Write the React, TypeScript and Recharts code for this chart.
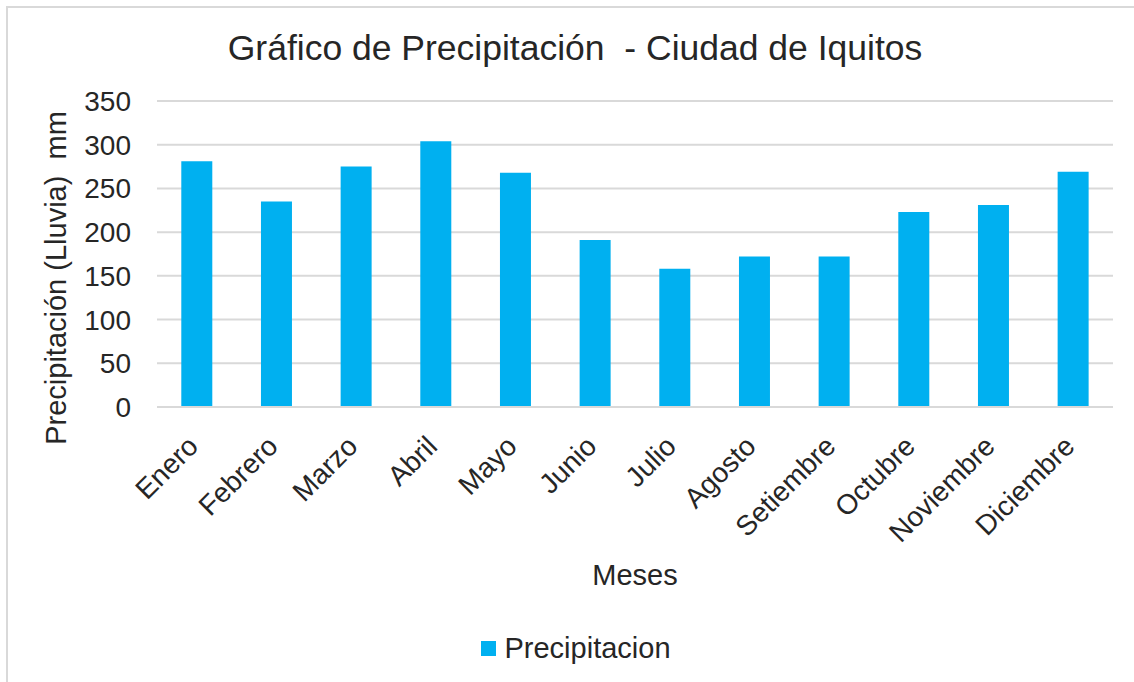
import React from "react";
import { BarChart, Bar, XAxis, YAxis, CartesianGrid, Legend, Label } from "recharts";

const months = ["Enero", "Febrero", "Marzo", "Abril", "Mayo", "Junio", "Julio", "Agosto", "Setiembre", "Octubre", "Noviembre", "Diciembre"];
const precipitation = [281, 235, 275, 304, 268, 191, 158, 172, 172, 223, 231, 269];
const yTicks = [0, 50, 100, 150, 200, 250, 300, 350];

const TITLE = "Gráfico de Precipitación  - Ciudad de Iquitos";
const Y_LABEL = "Precipitación (Lluvia)  mm";
const X_LABEL = "Meses";
const SERIES_NAME = "Precipitacion";

const data = months.map((m, i) => ({ mes: m, Precipitacion: precipitation[i] }));

const FONT = "'Liberation Sans', Arial, sans-serif";
const TEXT = "#262626";
const GRID = "#d9d9d9";
const BAR = "#00B0F0";

const XTick = (props: any) => {
  const { x, y, payload } = props;
  return (
    <g transform={`translate(${x + 3},${y + 33})`}>
      <text x={0} y={0} textAnchor="end" transform="rotate(-45)" fontSize={28} fontFamily={FONT} fill={TEXT}>
        {payload.value}
      </text>
    </g>
  );
};

const LegendContent = (props: any) => {
  const { payload } = props;
  return (
    <div style={{ display: "flex", justifyContent: "center", alignItems: "center", width: 1134 }}>
      {(payload || []).map((p: any) => (
        <div key={p.value} style={{ display: "flex", alignItems: "center", marginLeft: 18 }}>
          <span style={{ display: "inline-block", width: 15, height: 15, background: BAR, marginRight: 8 }} />
          <span style={{ fontSize: 29, fontFamily: FONT, color: TEXT, lineHeight: "32px" }}>{p.value}</span>
        </div>
      ))}
    </div>
  );
};

export default function App() {
  return (
    <div style={{ position: "absolute", left: 0, top: 0, width: 1134, height: 682, background: "#fff", overflow: "hidden" }}>
      <div
        style={{
          position: "absolute",
          left: 6,
          top: 6,
          width: 1140,
          height: 690,
          borderTop: `2px solid ${GRID}`,
          borderLeft: `2px solid ${GRID}`,
        }}
      />
      <div
        style={{
          position: "absolute",
          left: 0,
          top: 31,
          width: 1150,
          textAlign: "center",
          fontSize: 35.5,
          lineHeight: "35px",
          fontFamily: FONT,
          color: TEXT,
          whiteSpace: "pre",
        }}
      >
        {TITLE}
      </div>
      <div style={{ position: "absolute", left: 0, top: 0 }}>
        <BarChart
          width={1134}
          height={682}
          data={data}
          margin={{ top: 101, right: 21, left: 0, bottom: 95 }}
          barCategoryGap="30.5%"
        >
          <CartesianGrid vertical={false} stroke={GRID} strokeWidth={2} />
          <XAxis
            dataKey="mes"
            height={180}
            interval={0}
            tickLine={false}
            axisLine={{ stroke: GRID, strokeWidth: 2 }}
            tick={<XTick />}
          >
            <Label
              content={(p: any) => {
                const vb = p.viewBox || {};
                return (
                  <text x={vb.x + vb.width / 2} y={vb.y + 178} textAnchor="middle" fontSize={29} fontFamily={FONT} fill={TEXT}>
                    {X_LABEL}
                  </text>
                );
              }}
            />
          </XAxis>
          <YAxis
            width={157}
            domain={[0, 350]}
            ticks={yTicks}
            interval={0}
            axisLine={false}
            tickLine={false}
            tickSize={6}
            tickMargin={20}
            tick={{ fontSize: 28, fontFamily: FONT, fill: TEXT }}
          >
            <Label
              content={(p: any) => {
                const vb = p.viewBox || {};
                const cx = vb.x + 66;
                const cy = vb.y + vb.height / 2 + 24;
                return (
                  <text x={cx} y={cy} textAnchor="middle" transform={`rotate(-90, ${cx}, ${cy})`} fontSize={29} fontFamily={FONT} fill={TEXT} style={{ whiteSpace: "pre" }}>
                    {Y_LABEL}
                  </text>
                );
              }}
            />
          </YAxis>
          <Legend
            layout="horizontal"
            verticalAlign="middle"
            align="center"
            wrapperStyle={{ top: 632, left: 0, width: 1134 }}
            content={<LegendContent />}
          />
          <Bar dataKey="Precipitacion" name={SERIES_NAME} fill={BAR} isAnimationActive={false} />
        </BarChart>
      </div>
    </div>
  );
}
